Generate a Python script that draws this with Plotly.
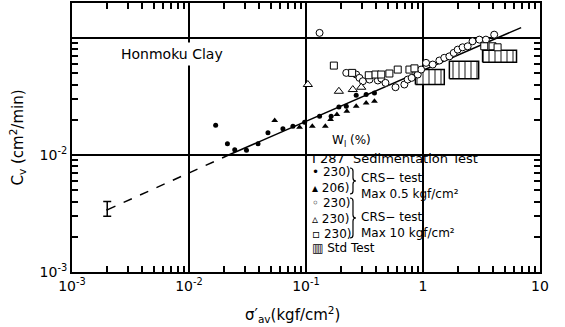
import numpy as np
import plotly.graph_objects as go

# Honmoku Clay: cv vs consolidation stress (log-log)

# CRS-test, max 0.5 kgf/cm2, wL = 230 (filled circles)
crs05_230_x = [0.0169, 0.0213, 0.0246, 0.0310, 0.0389, 0.0473, 0.0635, 0.0773, 0.0973,
               0.1306, 0.164, 0.191, 0.221, 0.2685, 0.3266, 0.3846]
crs05_230_y = [0.0180, 0.0125, 0.0111, 0.0110, 0.0125, 0.0155, 0.0168, 0.0176, 0.0191,
               0.0215, 0.0215, 0.0258, 0.0261, 0.0324, 0.0329, 0.0340]

# CRS-test, max 0.5 kgf/cm2, wL = 206 (filled triangles)
crs05_206_x = [0.054, 0.0881, 0.1132, 0.1462, 0.1622, 0.1837, 0.2234, 0.2685, 0.3266, 0.3846]
crs05_206_y = [0.0197, 0.0173, 0.0176, 0.0176, 0.0201, 0.0222, 0.0237, 0.0261, 0.0279, 0.0288]

# CRS-test, max 10 kgf/cm2 (open circles / triangles / squares)
crs10_circ_x = [0.1306, 0.2208, 0.2685, 0.2862, 0.306, 0.349, 0.411, 0.440, 0.478, 0.582,
                0.693, 0.740, 0.80, 0.902, 0.964, 1.062, 1.21, 1.38, 1.52, 1.68, 1.83,
                1.98, 2.18, 2.41, 2.65, 3.03, 3.45, 4.06]
crs10_circ_y = [0.1108, 0.0504, 0.0488, 0.0457, 0.0428, 0.0442, 0.0434, 0.0451, 0.0414, 0.0380,
                0.0401, 0.0442, 0.0457, 0.0488, 0.0538, 0.0614, 0.0594, 0.0643, 0.0678, 0.0698,
                0.0747, 0.0797, 0.0834, 0.0851, 0.0939, 0.0970, 0.0970, 0.107]

crs10_tri_x = [0.1037, 0.191, 0.2512, 0.2966]
crs10_tri_y = [0.0401, 0.0351, 0.0363, 0.0380]

crs10_sq_x = [0.173, 0.248, 0.344, 0.393, 0.440, 0.516, 0.608, 0.766, 0.845, 3.34, 3.93, 4.34]
crs10_sq_y = [0.0582, 0.0504, 0.0481, 0.0488, 0.0488, 0.0498, 0.0538, 0.0538, 0.0551,
              0.0851, 0.0851, 0.0834]

# Sedimentation test, wL = 287
sed_x = [0.002]
sed_y = [0.0034]
sed_err_plus = [0.0006]
sed_err_minus = [0.0004]

# Standard oedometer test ranges (hatched boxes)
std_x_lo = [0.861, 1.68, 3.23]
std_x_hi = [1.52, 2.99, 6.3]
std_y_lo = [0.0401, 0.0448, 0.0621]
std_y_hi = [0.0538, 0.0634, 0.0787]

# fitted relation (dashed extrapolation + solid)
fit_dash_x = [0.002, 0.0223]
fit_dash_y = [0.0034, 0.0101]
fit_solid_x = [0.0223, 6.9]
fit_solid_y = [0.0101, 0.123]

x_ticks = [1e-3, 1e-2, 1e-1, 1, 10]
x_ticktext = ["10<sup>-3</sup>", "10<sup>-2</sup>", "10<sup>-1</sup>", "1", "10"]
y_ticks = [1e-3, 1e-2, 1e-1]
y_ticktext = ["10<sup>-3</sup>", "10<sup>-2</sup>", ""]

FONT = "DejaVu Sans"

fig = go.Figure()

# hatched std-test boxes
for x0, x1, y0, y1 in zip(std_x_lo, std_x_hi, std_y_lo, std_y_hi):
    fig.add_trace(go.Scatter(
        x=[x0, x1, x1, x0, x0], y=[y0, y0, y1, y1, y0],
        mode="lines", fill="toself",
        line=dict(color="black", width=1.5),
        fillcolor="white",
        fillpattern=dict(shape="|", fgcolor="black", bgcolor="white", size=6, solidity=0.3),
        hoverinfo="skip"))

fig.add_trace(go.Scatter(x=fit_dash_x, y=fit_dash_y, mode="lines",
                         line=dict(color="black", width=1.5, dash="dash")))
fig.add_trace(go.Scatter(x=fit_solid_x, y=fit_solid_y, mode="lines",
                         line=dict(color="black", width=1.5)))

fig.add_trace(go.Scatter(
    x=sed_x, y=sed_y, mode="markers",
    marker=dict(size=2, color="black"),
    error_y=dict(type="data", symmetric=False, array=sed_err_plus,
                 arrayminus=sed_err_minus, color="black", thickness=1.5, width=4)))

fig.add_trace(go.Scatter(x=crs05_230_x, y=crs05_230_y, mode="markers",
                         marker=dict(symbol="circle", size=5, color="black")))
fig.add_trace(go.Scatter(x=crs05_206_x, y=crs05_206_y, mode="markers",
                         marker=dict(symbol="triangle-up", size=6, color="black")))
fig.add_trace(go.Scatter(x=crs10_circ_x, y=crs10_circ_y, mode="markers",
                         marker=dict(symbol="circle", size=7, color="white",
                                     line=dict(color="black", width=1))))
fig.add_trace(go.Scatter(x=crs10_tri_x, y=crs10_tri_y, mode="markers",
                         marker=dict(symbol="triangle-up", size=8, color="white",
                                     line=dict(color="black", width=1))))
fig.add_trace(go.Scatter(x=crs10_sq_x, y=crs10_sq_y, mode="markers",
                         marker=dict(symbol="square", size=7, color="white",
                                     line=dict(color="black", width=1))))

minor_x = [m * 10.0 ** e for e in range(-3, 1) for m in range(2, 10)]
minor_y = [m * 10.0 ** e for e in range(-3, -1) for m in range(2, 10)]

axis_common = dict(
    showline=True, linecolor="black", linewidth=2, mirror="ticks",
    ticks="inside", ticklen=6, tickwidth=1.5, tickcolor="black",
    showgrid=True, gridcolor="black", gridwidth=1.5, zeroline=False,
    tickfont=dict(family=FONT, size=14, color="black"),
)

fig.update_xaxes(type="log", range=[-3, 1], tickvals=x_ticks, ticktext=x_ticktext,
                 minor=dict(tickvals=minor_x, ticks="inside", ticklen=6, tickwidth=1.5,
                            tickcolor="black", showgrid=False),
                 **axis_common)
fig.update_yaxes(type="log", range=[-3, -0.70], tickvals=y_ticks, ticktext=y_ticktext,
                 minor=dict(tickvals=minor_y, ticks="inside", ticklen=6, tickwidth=1.5,
                            tickcolor="black", showgrid=False),
                 title=dict(text="C<sub>v</sub> (cm<sup>2</sup>/min)",
                            font=dict(family=FONT, size=15, color="black"), standoff=12),
                 **axis_common)

# white patch behind the key (hides grid lines there)
fig.add_shape(type="rect", xref="x", yref="paper", x0=0.104, x1=10, y0=0, y1=0.63,
              fillcolor="white", line=dict(width=0), layer="between")


def px_x(p):
    return (p - 72) / 468


def px_y(p):
    return (272 - p) / 269


def note(text, x, y, size=12, anchor="left", **kw):
    fig.add_annotation(text=text, xref="paper", yref="paper", x=px_x(x), y=px_y(y),
                       xanchor=anchor, yanchor="middle", showarrow=False, align="left",
                       font=dict(family=FONT, size=size, color="black"), **kw)


def brace(x, top, bot):
    # curly brace drawn as a path, pixel positions -> paper
    mid = (top + bot) / 2
    pts = lambda a, b: f"{px_x(a):.4f},{px_y(b):.4f}"
    path = (f"M {pts(x, top)} Q {pts(x + 3, top)} {pts(x + 3, top + 3)} "
            f"L {pts(x + 3, mid - 3)} Q {pts(x + 3, mid)} {pts(x + 6, mid)} "
            f"Q {pts(x + 3, mid)} {pts(x + 3, mid + 3)} "
            f"L {pts(x + 3, bot - 3)} Q {pts(x + 3, bot)} {pts(x, bot)}")
    fig.add_shape(type="path", xref="paper", yref="paper", path=path,
                  line=dict(color="black", width=1.2))


note("Honmoku Clay", 117, 54, size=14, bgcolor="white", borderpad=3)
note("W<sub>l</sub> (%)", 330, 141)
note("I 287  Sedimentation Test", 310, 158, size=13)
note("• 230)<br>▴ 206)", 310, 180)
brace(350, 168, 194)
note("CRS− test<br>Max 0.5 kgf/cm²", 359, 186)
note("◦ 230)<br>▵ 230)<br>▫ 230)", 310, 218)
brace(350, 198, 238)
note("CRS− test<br>Max 10 kgf/cm²", 359, 225)
note("▥ Std Test", 310, 248)
note("σ′<sub>av</sub>(kgf/cm<sup>2</sup>)", 292, 314, size=15, anchor="center")

fig.update_layout(
    width=565, height=327,
    margin=dict(l=72, r=25, t=3, b=55, autoexpand=False),
    paper_bgcolor="white", plot_bgcolor="white",
    showlegend=False,
    font=dict(family=FONT, color="black"),
)

fig.write_html("out.html", config={"displayModeBar": False},
               post_script="document.body.style.margin='0';")
